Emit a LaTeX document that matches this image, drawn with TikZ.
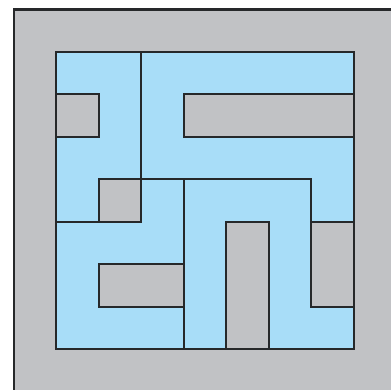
\documentclass[tikz,border=0pt]{standalone}
\definecolor{bggray}{RGB}{193,194,197}
\definecolor{skyb}{RGB}{168,221,248}
\definecolor{linec}{RGB}{38,40,42}
\tikzset{
  wall/.style={draw=linec, line width=1.9pt, line cap=rect},
  hole/.style={fill=bggray, draw=linec, line width=1.9pt},
}
\begin{document}
\begin{tikzpicture}[x=1pt,y=-1pt]
\useasboundingbox (0,0) rectangle (391,389);
\clip (0,0) rectangle (391,389);
\fill[white] (0,0) rectangle (391,389);
\filldraw[fill=bggray, draw=linec, line width=2.4pt] (14,9.5) rectangle (430,430);
\begin{scope}[shift={(56,52)}, x=42.571pt, y=-42.43pt]
  \fill[skyb] (0,0) rectangle (7,7);
  \filldraw[hole] (0,1) rectangle (1,2);
  \filldraw[hole] (3,1) rectangle (7,2);
  \filldraw[hole] (1,3) rectangle (2,4);
  \filldraw[hole] (1,5) rectangle (3,6);
  \filldraw[hole] (4,4) rectangle (5,7);
  \filldraw[hole] (6,4) rectangle (7,6);
  \draw[wall] (2,0) -- (2,3);
  \draw[wall] (1,3) -- (6,3) -- (6,4);
  \draw[wall] (3,3) -- (3,7);
  \draw[wall] (0,4) -- (1,4);
  \draw[wall] (0,0) rectangle (7,7);
\end{scope}
\end{tikzpicture}
\end{document}
